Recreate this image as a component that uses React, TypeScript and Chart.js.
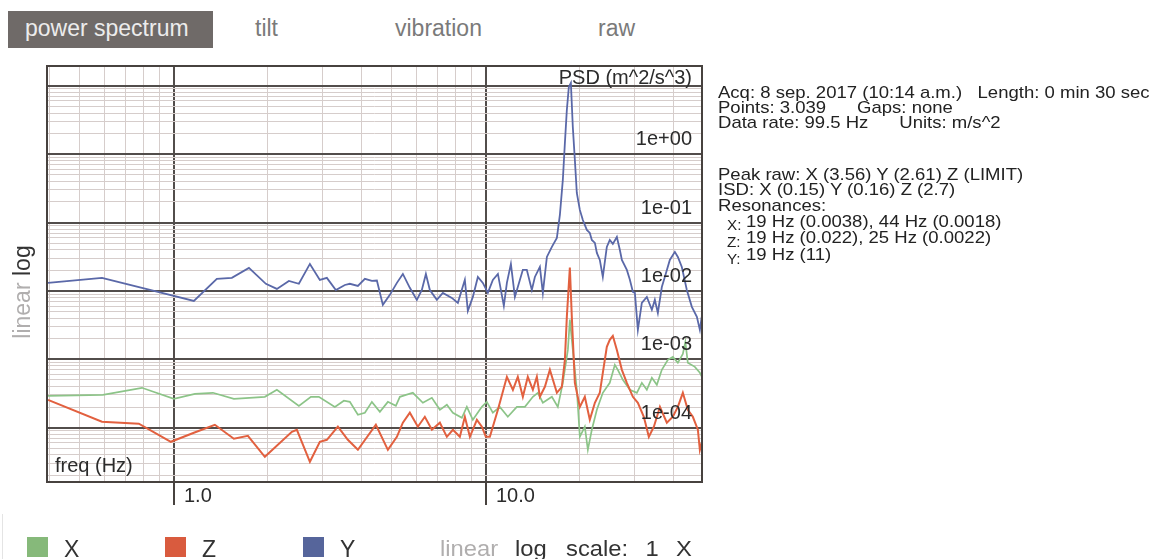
import React, { useEffect, useRef } from "react";
import { Chart, registerables } from "chart.js";

Chart.register(...registerables);

// ---- data ----
const freqY = [0.395, 0.588, 0.863, 1.159, 1.373, 1.534, 1.740, 1.972, 2.139, 2.337, 2.516, 2.729, 2.937, 3.093, 3.305, 3.532, 3.665, 3.889, 4.095, 4.312, 4.474, 4.676, 4.924, 5.186, 5.420, 5.706, 6.009, 6.235, 6.424, 6.615, 6.965, 7.281, 7.780, 8.134, 8.564, 8.755, 9.085, 9.428, 9.781, 10.15, 10.53, 10.93, 11.42, 11.68, 12.03, 12.39, 12.66, 13.14, 13.53, 14.04, 14.36, 14.90, 15.23, 15.69, 16.28, 16.89, 17.27, 17.65, 17.92, 18.18, 18.45, 18.73, 19.00, 19.29, 19.57, 20.01, 20.46, 21.07, 21.54, 21.86, 22.36, 22.69, 23.19, 23.71, 24.42, 24.96, 25.53, 26.30, 26.89, 27.29, 28.31, 28.95, 29.60, 30.04, 30.71, 31.62, 32.81, 34.05, 34.81, 35.59, 36.65, 37.47, 38.88, 40.35, 41.25, 42.48, 44.08, 45.74, 47.47, 48.53, 49.2];
const psdY = [0.0131, 0.0155, 0.0100, 0.00714, 0.0150, 0.0155, 0.0217, 0.0127, 0.0107, 0.0140, 0.0127, 0.0248, 0.0145, 0.0155, 0.0103, 0.0122, 0.0127, 0.0118, 0.0150, 0.0140, 0.0142, 0.00624, 0.00874, 0.0131, 0.0177, 0.0111, 0.00739, 0.0103, 0.0177, 0.0103, 0.00739, 0.00935, 0.00790, 0.00668, 0.0145, 0.00510, 0.00817, 0.0160, 0.0131, 0.00935, 0.0145, 0.0177, 0.00604, 0.0131, 0.0248, 0.00817, 0.0114, 0.0203, 0.0203, 0.0103, 0.0160, 0.0224, 0.00935, 0.0314, 0.0440, 0.0596, 0.129, 0.420, 1.46, 4.43, 9.6, 11, 2.50, 0.822, 0.271, 0.153, 0.109, 0.078, 0.0705, 0.0557, 0.0504, 0.0360, 0.0284, 0.0160, 0.0440, 0.0557, 0.0487, 0.0615, 0.0397, 0.0284, 0.0203, 0.0145, 0.00967, 0.00935, 0.00269, 0.00668, 0.00817, 0.00528, 0.00739, 0.00477, 0.0114, 0.0160, 0.0284, 0.0372, 0.0314, 0.0224, 0.0103, 0.00584, 0.00417, 0.00269, 0.00417];

const freqX = [0.395, 0.592, 0.790, 1.0, 1.168, 1.334, 1.557, 1.957, 2.139, 2.516, 2.749, 2.915, 3.281, 3.507, 3.665, 3.889, 4.095, 4.312, 4.574, 4.852, 5.147, 5.302, 5.834, 6.283, 6.714, 7.122, 7.499, 7.840, 8.376, 8.691, 9.085, 9.71, 10.07, 10.53, 11.09, 11.76, 12.57, 13.34, 14.15, 14.68, 15.23, 16.28, 17.01, 17.65, 18.32, 18.59, 19.00, 19.57, 20.01, 20.76, 21.23, 21.86, 22.69, 23.71, 24.96, 25.91, 26.49, 27.49, 28.95, 30.48, 31.62, 32.81, 34.05, 35.33, 36.65, 38.31, 39.76, 41.25, 42.80, 43.6, 44.40, 46.77, 48.53, 49.2];
const psdX = [2.92e-4, 3.02e-4, 3.82e-4, 2.64e-4, 3.12e-4, 3.23e-4, 2.64e-4, 2.82e-4, 3.57e-4, 2.08e-4, 2.82e-4, 2.82e-4, 2.01e-4, 2.47e-4, 2.38e-4, 1.54e-4, 1.65e-4, 2.38e-4, 1.70e-4, 2.38e-4, 2.08e-4, 2.82e-4, 3.23e-4, 2.31e-4, 2.73e-4, 1.82e-4, 2.16e-4, 1.65e-4, 1.39e-4, 2.01e-4, 1.30e-4, 2.01e-4, 2.38e-4, 1.65e-4, 2.01e-4, 1.44e-4, 2.01e-4, 2.01e-4, 2.82e-4, 3.23e-4, 2.31e-4, 2.82e-4, 2.01e-4, 4.52e-4, 1.37e-3, 3.8e-3, 1.37e-3, 3.57e-4, 7.33e-5, 1.03e-4, 4.73e-5, 9.3e-5, 1.82e-4, 3.23e-4, 4.52e-4, 8.28e-4, 7.0e-4, 5.0e-4, 3.57e-4, 3.23e-4, 4.52e-4, 3.57e-4, 5.35e-4, 4.23e-4, 7.0e-4, 9.8e-4, 1.08e-3, 8.86e-4, 1.2e-3, 1.8e-3, 8.86e-4, 7.74e-4, 6.33e-4, 5.6e-4];

const freqZ = [0.395, 0.588, 0.772, 0.978, 1.159, 1.353, 1.557, 1.727, 1.957, 2.389, 2.479, 2.729, 2.937, 3.093, 3.355, 3.611, 3.889, 4.441, 4.852, 5.186, 5.420, 5.706, 6.054, 6.374, 6.714, 7.122, 7.499, 7.840, 8.254, 8.564, 8.888, 9.359, 9.71, 10.0, 10.30, 10.93, 11.68, 12.21, 12.66, 13.14, 13.63, 14.15, 14.57, 14.90, 15.46, 16.04, 16.89, 17.52, 17.92, 18.18, 18.59, 18.86, 19.29, 20.01, 20.76, 21.54, 22.36, 23.19, 23.71, 24.42, 24.96, 25.53, 26.30, 27.29, 28.31, 29.60, 30.71, 32.09, 33.30, 34.56, 36.14, 38.03, 39.76, 41.25, 42.80, 44.40, 46.08, 47.82, 48.53, 49.2];
const psdZ = [2.55e-4, 1.22e-4, 1.14e-4, 6.2e-5, 8.4e-5, 1.10e-4, 6.86e-5, 7.59e-5, 3.74e-5, 8.69e-5, 9.3e-5, 3.16e-5, 6.2e-5, 6.63e-5, 1.03e-4, 6.63e-5, 4.73e-5, 1.10e-4, 4.73e-5, 7.33e-5, 1.18e-4, 1.65e-4, 1.03e-4, 1.44e-4, 9.3e-5, 1.18e-4, 7.33e-5, 9.3e-5, 7.33e-5, 1.44e-4, 7.33e-5, 1.30e-4, 1.03e-4, 7.33e-5, 7.33e-5, 1.82e-4, 5.53e-4, 3.57e-4, 5.53e-4, 2.82e-4, 5.53e-4, 3.57e-4, 5.53e-4, 2.82e-4, 3.95e-4, 7.0e-4, 3.23e-4, 3.95e-4, 9.8e-4, 4.17e-3, 0.022, 4.17e-3, 4.52e-4, 2.01e-4, 2.82e-4, 1.30e-4, 2.31e-4, 3.23e-4, 6.33e-4, 1.52e-3, 1.92e-3, 2.2e-3, 1.37e-3, 7.0e-4, 4.52e-4, 2.82e-4, 2.31e-4, 1.44e-4, 7.33e-5, 1.03e-4, 2.01e-4, 1.18e-4, 1.44e-4, 2.01e-4, 3.23e-4, 1.82e-4, 1.44e-4, 9.3e-5, 4.73e-5, 6.0e-5];

// ---- axes / ticks ----
const X_MIN = 0.392;
const X_MAX = 49.3;
const Y_MIN = 1.6e-5;
const Y_MAX = 19.5;
const xGridValues = [0.4, 0.5, 0.6, 0.7, 0.8, 0.9, 1, 2, 3, 4, 5, 6, 7, 8, 9, 10, 20, 30, 40];
const xMajorValues = [1, 10];
const xTickLabels = ["1.0", "10.0"];
const yDecades = [-5, -4, -3, -2, -1, 0, 1];
const yMinorSteps = [1, 2, 3, 4, 5, 6, 7, 8, 9];
const yLabelValues = [1, 0.1, 0.01, 0.001, 0.0001];
const yTickLabels = ["1e+00", "1e-01", "1e-02", "1e-03", "1e-04"];
const yTitle = "PSD (m^2/s^3)";
const xTitle = "freq (Hz)";

const seriesNames = ["X", "Z", "Y"];
const lineColors = { X: "#8cc488", Z: "#e2603f", Y: "#5a68a8" };
const legendColors = { X: "#86b97a", Z: "#d95b3e", Y: "#56659b" };

const infoLines = [
  "Acq: 8 sep. 2017 (10:14 a.m.)   Length: 0 min 30 sec",
  "Points: 3.039      Gaps: none",
  "Data rate: 99.5 Hz      Units: m/s^2",
];
const infoLines2 = [
  "Peak raw: X (3.56) Y (2.61) Z (LIMIT)",
  "ISD: X (0.15) Y (0.16) Z (2.7)",
  "Resonances:",
];
const resonanceAxes = ["X:", "Z:", "Y:"];
const resonanceTexts = [
  "19 Hz (0.0038), 44 Hz (0.0018)",
  "19 Hz (0.022), 25 Hz (0.0022)",
  "19 Hz (11)",
];

const FONT = '"Liberation Sans", Arial, Helvetica, sans-serif';
const MAJOR_GRID = "#524d4b";
const MINOR_GRID = "#d6cdcb";

function toPoints(xs: number[], ys: number[]) {
  return xs.map((x, i) => ({ x, y: ys[i] }));
}

const overlayPlugin = {
  id: "overlayPlugin",
  afterDraw(chart: any) {
    const { ctx, chartArea: a, scales } = chart;
    const xs = scales.x;
    const ys = scales.y;
    ctx.save();
    ctx.strokeStyle = "#47423f";
    ctx.lineWidth = 2;
    ctx.strokeRect(a.left, a.top, a.right - a.left, a.bottom - a.top);
    ctx.font = `20px ${FONT}`;
    ctx.fillStyle = "#2b2b2b";
    ctx.textBaseline = "alphabetic";
    xMajorValues.forEach((v, i) => {
      const px = Math.round(xs.getPixelForValue(v));
      ctx.beginPath();
      ctx.moveTo(px, a.bottom);
      ctx.lineTo(px, a.bottom + 23);
      ctx.stroke();
      ctx.textAlign = "left";
      ctx.fillText(xTickLabels[i], px + 10, a.bottom + 20);
    });
    ctx.textAlign = "right";
    yLabelValues.forEach((v, i) => {
      const py = ys.getPixelForValue(v);
      ctx.fillText(yTickLabels[i], a.right - 10, py - 9);
    });
    ctx.fillText(yTitle, a.right - 10, ys.getPixelForValue(10) - 2);
    ctx.textAlign = "left";
    ctx.fillText(xTitle, a.left + 8, a.bottom - 10);
    ctx.restore();
  },
};

function T(props: any) {
  const { x, base, size, color, children, scaleX, weight, wordSpacing } = props;
  return (
    <div
      style={{
        position: "absolute",
        left: x,
        top: base - 0.8465 * size,
        fontSize: size,
        lineHeight: `${size}px`,
        color,
        whiteSpace: "pre",
        fontWeight: weight || 400,
        wordSpacing: wordSpacing || undefined,
        transform: scaleX ? `scaleX(${scaleX})` : undefined,
        transformOrigin: "left top",
      }}
    >
      {children}
    </div>
  );
}

export default function App() {
  const canvasRef = useRef<HTMLCanvasElement>(null);

  useEffect(() => {
    if (!canvasRef.current) return;
    const yGridValues: { value: number; major: boolean }[] = [];
    yDecades.forEach((e) => {
      yMinorSteps.forEach((k) => {
        const v = Number((k * Math.pow(10, e)).toPrecision(3));
        if (v >= Y_MIN && v <= Y_MAX) yGridValues.push({ value: v, major: k === 1 });
      });
    });
    const gridColor = (c: any) => (c.tick && c.tick.major ? MAJOR_GRID : MINOR_GRID);
    const gridWidth = (c: any) => (c.tick && c.tick.major ? 2 : 1);

    const chart = new Chart(canvasRef.current, {
      type: "line",
      data: {
        datasets: [
          {
            label: "Y",
            data: toPoints(freqY, psdY),
            borderColor: lineColors.Y,
            borderWidth: 1.8,
            pointRadius: 0,
            tension: 0,
          },
          {
            label: "Z",
            data: toPoints(freqZ, psdZ),
            borderColor: lineColors.Z,
            borderWidth: 2,
            pointRadius: 0,
            tension: 0,
          },
          {
            label: "X",
            data: toPoints(freqX, psdX),
            borderColor: lineColors.X,
            borderWidth: 1.7,
            pointRadius: 0,
            tension: 0,
          },
        ],
      },
      options: {
        animation: false,
        responsive: false,
        devicePixelRatio: 1,
        layout: { padding: { left: 47, top: 66, right: 18, bottom: 38 } },
        plugins: { legend: { display: false }, tooltip: { enabled: false }, title: { display: false } },
        scales: {
          x: {
            type: "logarithmic",
            min: X_MIN,
            max: X_MAX,
            position: "bottom",
            afterBuildTicks: (s: any) => {
              s.ticks = xGridValues.map((v) => ({ value: v, major: xMajorValues.includes(v) }));
            },
            afterFit: (s: any) => {
              s.height = 0;
            },
            ticks: { display: false, autoSkip: false },
            grid: { drawTicks: false, color: gridColor, lineWidth: gridWidth },
            border: { display: false },
          },
          y: {
            type: "logarithmic",
            min: Y_MIN,
            max: Y_MAX,
            position: "left",
            afterBuildTicks: (s: any) => {
              s.ticks = yGridValues.map((t) => ({ ...t }));
            },
            afterFit: (s: any) => {
              s.width = 0;
            },
            ticks: { display: false, autoSkip: false },
            grid: { drawTicks: false, color: gridColor, lineWidth: gridWidth },
            border: { display: false },
          },
        },
      } as any,
      plugins: [overlayPlugin],
    });
    return () => chart.destroy();
  }, []);

  const tabColor = "#7a7a7a";
  const infoSize = 17;
  const infoScale = 1.09;
  const infoColor = "#222222";

  return (
    <div
      style={{
        position: "absolute",
        left: 0,
        top: 0,
        width: 1156,
        height: 559,
        background: "#ffffff",
        fontFamily: FONT,
        overflow: "hidden",
      }}
    >
      {/* tabs */}
      <div style={{ position: "absolute", left: 8, top: 11, width: 205, height: 37, background: "#6f6a68" }} />
      <T x={25} base={36} size={23} color="#ececec">power spectrum</T>
      <T x={255} base={36} size={23} color={tabColor}>tilt</T>
      <T x={395} base={36} size={23} color={tabColor}>vibration</T>
      <T x={598} base={36} size={23} color={tabColor}>raw</T>

      <canvas ref={canvasRef} width={720} height={520} style={{ position: "absolute", left: 0, top: 0 }} />

      {/* left scale switch */}
      <div
        style={{
          position: "absolute",
          left: 22,
          top: 292,
          transform: "translate(-50%, -50%) rotate(-90deg)",
          whiteSpace: "pre",
          fontSize: 23,
          lineHeight: "23px",
        }}
      >
        <span style={{ color: "#b0aeae" }}>linear </span>
        <span style={{ color: "#333" }}>log</span>
      </div>

      {/* info panel */}
      {infoLines.map((s, i) => (
        <T key={"a" + i} x={718} base={98 + i * 15} size={infoSize} color={infoColor} scaleX={infoScale}>
          {s}
        </T>
      ))}
      {infoLines2.map((s, i) => (
        <T key={"b" + i} x={718} base={180 + i * 15.5} size={infoSize} color={infoColor} scaleX={infoScale}>
          {s}
        </T>
      ))}
      {resonanceAxes.map((s, i) => (
        <T key={"c" + i} x={727} base={230 + i * 17} size={14} color={infoColor} scaleX={infoScale}>
          {s}
        </T>
      ))}
      {resonanceTexts.map((s, i) => (
        <T key={"d" + i} x={746} base={227 + i * 16.5} size={infoSize} color={infoColor} scaleX={infoScale}>
          {s}
        </T>
      ))}

      {/* bottom legend */}
      <div style={{ position: "absolute", left: 2, top: 514, width: 1, height: 45, background: "#e4e4e4" }} />
      {seriesNames.map((n, i) => {
        const sx = [27, 165, 303][i];
        return (
          <React.Fragment key={n}>
            <div
              style={{
                position: "absolute",
                left: sx,
                top: 537,
                width: 21,
                height: 20,
                background: (legendColors as any)[n],
              }}
            />
            <T x={sx + 37} base={557} size={23} color="#333">
              {n}
            </T>
          </React.Fragment>
        );
      })}
      <T x={440} base={557} size={22} color="#b0aeae" scaleX={1.08}>linear</T>
      <T x={515} base={557} size={22} color="#333" scaleX={1.08}>log</T>
      <T x={566} base={557} size={22} color="#333" scaleX={1.08} wordSpacing={10}>{"scale: 1 X"}</T>
    </div>
  );
}
